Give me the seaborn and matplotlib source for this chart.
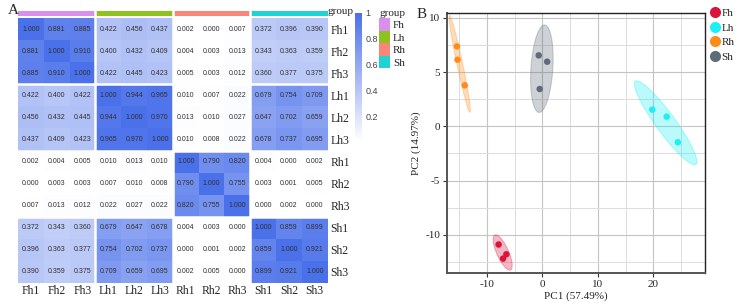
import matplotlib
matplotlib.use("Agg")
import matplotlib.pyplot as plt
import numpy as np
import pandas as pd
import seaborn as sns
from matplotlib.colors import LinearSegmentedColormap, ListedColormap
from matplotlib.patches import Ellipse, Patch
from matplotlib.lines import Line2D
from matplotlib.ticker import MultipleLocator

# ---- panel A data: sample correlation matrix ----
samples = ["Fh1", "Fh2", "Fh3", "Lh1", "Lh2", "Lh3",
           "Rh1", "Rh2", "Rh3", "Sh1", "Sh2", "Sh3"]
groups = ["Fh", "Lh", "Rh", "Sh"]
sample_group = ["Fh"] * 3 + ["Lh"] * 3 + ["Rh"] * 3 + ["Sh"] * 3
corr = [
    [1.000, 0.881, 0.885, 0.422, 0.456, 0.437, 0.002, 0.000, 0.007, 0.372, 0.396, 0.390],
    [0.881, 1.000, 0.910, 0.400, 0.432, 0.409, 0.004, 0.003, 0.013, 0.343, 0.363, 0.359],
    [0.885, 0.910, 1.000, 0.422, 0.445, 0.423, 0.005, 0.003, 0.012, 0.360, 0.377, 0.375],
    [0.422, 0.400, 0.422, 1.000, 0.944, 0.965, 0.010, 0.007, 0.022, 0.679, 0.754, 0.709],
    [0.456, 0.432, 0.445, 0.944, 1.000, 0.970, 0.013, 0.010, 0.027, 0.647, 0.702, 0.659],
    [0.437, 0.409, 0.423, 0.965, 0.970, 1.000, 0.010, 0.008, 0.022, 0.678, 0.737, 0.695],
    [0.002, 0.004, 0.005, 0.010, 0.013, 0.010, 1.000, 0.790, 0.820, 0.004, 0.000, 0.002],
    [0.000, 0.003, 0.003, 0.007, 0.010, 0.008, 0.790, 1.000, 0.755, 0.003, 0.001, 0.005],
    [0.007, 0.013, 0.012, 0.022, 0.027, 0.022, 0.820, 0.755, 1.000, 0.000, 0.002, 0.000],
    [0.372, 0.343, 0.360, 0.679, 0.647, 0.678, 0.004, 0.003, 0.000, 1.000, 0.859, 0.899],
    [0.396, 0.363, 0.377, 0.754, 0.702, 0.737, 0.000, 0.001, 0.002, 0.859, 1.000, 0.921],
    [0.390, 0.359, 0.375, 0.709, 0.659, 0.695, 0.002, 0.005, 0.000, 0.899, 0.921, 1.000],
]
annot_colors = ["#DA8FEA", "#8DC21F", "#F8877A", "#1FD3D3"]

# ---- panel B data: PCA scores ----
pca_group = ["Fh", "Fh", "Fh", "Lh", "Lh", "Lh", "Rh", "Rh", "Rh", "Sh", "Sh", "Sh"]
pc1 = [-7.9, -6.5, -7.1, 19.8, 22.4, 24.4, -15.4, -15.3, -14.0, -0.67, 0.85, -0.49]
pc2 = [-10.9, -11.8, -12.2, 1.54, 0.89, -1.47, 7.37, 6.14, 3.78, 6.54, 5.96, 3.44]
pca_colors = ["#DC143C", "#1EEFF5", "#FF8C1A", "#5E6B7A"]

SERIF = "Liberation Serif"
SANS = "Liberation Sans"

sns.set_style("white")
plt.rcParams["axes.unicode_minus"] = False
W, H = 744, 307
fig = plt.figure(figsize=(W / 100, H / 100), dpi=100)


def fax(x0, y0, x1, y1):
    return fig.add_axes([x0 / W, 1 - y1 / H, (x1 - x0) / W, (y1 - y0) / H])


# ---------------- panel A ----------------
ax_hm = fax(18, 18.3, 327.7, 282.7)
ax_cb = fax(354.5, 12.7, 361.5, 142)
ax_top = fax(18, 11, 327.7, 16)

df = pd.DataFrame(corr, index=samples, columns=samples)
cmap = LinearSegmentedColormap.from_list("wb", ["#FFFFFF", "#4A70EA"])
sns.heatmap(df, ax=ax_hm, cmap=cmap, vmin=0, vmax=1, annot=True, fmt=".3f",
            annot_kws={"fontsize": 5, "color": "#303030", "family": SANS},
            cbar_ax=ax_cb, cbar_kws={"ticks": [0.2, 0.4, 0.6, 0.8, 1.0]})
for k in (3, 6, 9):
    ax_hm.axhline(k, color="white", lw=1.8)
    ax_hm.axvline(k, color="white", lw=1.8)
ax_hm.yaxis.tick_right()
ax_hm.set_yticklabels(samples, rotation=0, family=SERIF, fontsize=8.5)
ax_hm.set_xticklabels(samples, rotation=0, family=SERIF, fontsize=8.5)
ax_hm.tick_params(length=0, pad=2)
ax_hm.set_xlabel("")
ax_hm.set_ylabel("")

ax_cb.set_yticklabels(["0.2", "0.4", "0.6", "0.8", "1"], family=SANS, fontsize=6.5, color="#444444")
ax_cb.tick_params(length=0, pad=3)
for s in ax_cb.spines.values():
    s.set_visible(False)

codes = pd.DataFrame([[groups.index(g) for g in sample_group]])
sns.heatmap(codes, ax=ax_top, cmap=ListedColormap(annot_colors), vmin=-0.5, vmax=3.5,
            cbar=False, xticklabels=False, yticklabels=False)
for k in (3, 6, 9):
    ax_top.axvline(k, color="white", lw=1.8)
fig.text(328 / W, 1 - 11 / H, "group", family=SERIF, fontsize=8, va="center", ha="left")

handles = [Patch(facecolor=c, edgecolor="none", label=g) for g, c in zip(groups, annot_colors)]
leg = fig.legend(handles=handles, title="group", loc="upper left",
                 bbox_to_anchor=(377 / W, 1 - 7 / H), frameon=False,
                 prop={"family": SERIF, "size": 8}, handlelength=0.95, handleheight=1.35,
                 handletextpad=0.3, labelspacing=0.0, borderaxespad=0, borderpad=0.2,
                 alignment="left")
leg.get_title().set_family(SERIF)
leg.get_title().set_fontsize(8)

fig.text(8 / W, 1 - 10 / H, "A", family=SERIF, fontsize=11, va="center")

# ---------------- panel B ----------------
ax_b = fax(447, 13, 705, 272.7)
pca = pd.DataFrame({"PC1": pc1, "PC2": pc2, "group": pca_group})
pal = dict(zip(groups, pca_colors))
for g in groups:
    sub = pca[pca.group == g]
    xy = sub[["PC1", "PC2"]].to_numpy()
    mu = xy.mean(axis=0)
    vals, vecs = np.linalg.eigh(np.cov(xy.T))
    ang = np.degrees(np.arctan2(vecs[1, 1], vecs[0, 1]))
    w, h = 2 * np.sqrt(5.991 * vals[::-1])
    ax_b.add_patch(Ellipse(mu, w, h, angle=ang, facecolor=pal[g], alpha=0.3,
                           edgecolor=pal[g], lw=0.8, zorder=2))
sns.scatterplot(data=pca, x="PC1", y="PC2", hue="group", hue_order=groups, palette=pal,
                s=22, edgecolor="none", ax=ax_b, legend=False, zorder=3)
ax_b.set_xlim(-17.2, 29.3)
ax_b.set_ylim(-13.5, 10.45)
ax_b.xaxis.set_major_locator(MultipleLocator(10))
ax_b.xaxis.set_minor_locator(MultipleLocator(5))
ax_b.yaxis.set_major_locator(MultipleLocator(5))
ax_b.yaxis.set_minor_locator(MultipleLocator(2.5))
ax_b.grid(which="major", color="#C4C4C4", lw=0.8, zorder=0)
ax_b.grid(which="minor", color="#DCDCDC", lw=0.7, zorder=0)
ax_b.set_axisbelow(True)
ax_b.tick_params(which="major", direction="out", length=3, width=0.8, color="#333333",
                 labelsize=8, pad=2, left=True, bottom=True)
ax_b.tick_params(which="minor", length=0)
for lab in ax_b.get_xticklabels() + ax_b.get_yticklabels():
    lab.set_family(SERIF)
for side in ("left", "bottom"):
    ax_b.spines[side].set_color("#555555")
    ax_b.spines[side].set_linewidth(1.4)
for side in ("top", "right"):
    ax_b.spines[side].set_color("#222222")
    ax_b.spines[side].set_linewidth(1.0)
ax_b.set_xlabel("PC1 (57.49%)", family=SERIF, fontsize=8, labelpad=2)
ax_b.set_ylabel("PC2 (14.97%)", family=SERIF, fontsize=8, labelpad=3)

mk = [Line2D([], [], marker="o", ls="", markersize=8, markerfacecolor=c,
             markeredgecolor="none", label=g) for g, c in zip(groups, pca_colors)]
fig.legend(handles=mk, loc="upper left", bbox_to_anchor=(709 / W, 1 - 8 / H),
           frameon=False, prop={"family": SERIF, "size": 8}, handlelength=1.0,
           handletextpad=0.1, labelspacing=0.45, borderaxespad=0, borderpad=0)

fig.text(417 / W, 1 - 14 / H, "B", family=SERIF, fontsize=11, va="center")

fig.savefig("out.png", dpi=100)
